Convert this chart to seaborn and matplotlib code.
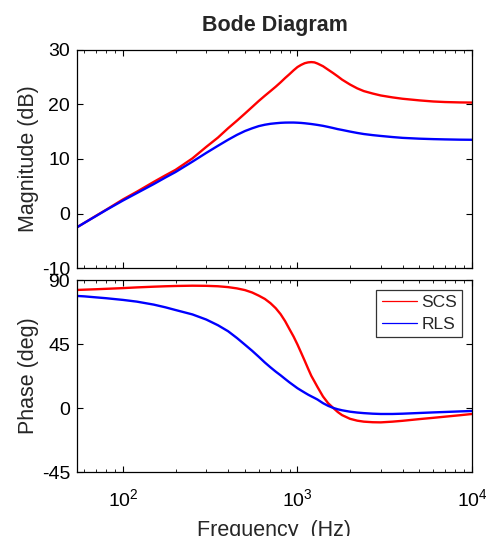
import pandas as pd
import matplotlib
matplotlib.use("Agg")
import matplotlib.pyplot as plt
import seaborn as sns
from matplotlib.ticker import LogLocator, NullFormatter

# valores (Hz)
freq = [54.5, 60, 70, 80, 100, 120, 150, 175, 200, 250, 300, 350,
        400, 450, 500, 550, 600, 650, 700, 750, 800, 850, 900, 950,
        1000, 1050, 1100, 1150, 1200, 1250, 1300, 1400, 1500, 1600, 1700, 1800,
        2000, 2200, 2400, 2700, 3000, 3500, 4000, 5000, 6000, 7000, 8500, 10000]

# magnitude (dB)
mag_scs = [-2.5, -1.7, -0.4, 0.7, 2.6, 4.0, 5.8, 7.0, 8.0, 10.1, 12.2, 13.9,
           15.6, 17.0, 18.3, 19.5, 20.6, 21.55, 22.4, 23.2, 24.0, 24.8, 25.5, 26.2,
           26.8, 27.2, 27.5, 27.65, 27.7, 27.65, 27.45, 26.95, 26.3, 25.7, 25.1, 24.5,
           23.6, 22.9, 22.4, 21.95, 21.6, 21.25, 21.0, 20.7, 20.5, 20.4, 20.33, 20.3]
mag_rls = [-2.5, -1.7, -0.45, 0.65, 2.4, 3.75, 5.4, 6.6, 7.6, 9.5, 11.1, 12.4,
           13.5, 14.4, 15.1, 15.6, 16.0, 16.25, 16.42, 16.52, 16.6, 16.64, 16.65, 16.65,
           16.62, 16.58, 16.52, 16.45, 16.38, 16.3, 16.22, 16.05, 15.85, 15.65, 15.45, 15.3,
           15.0, 14.75, 14.55, 14.35, 14.2, 14.0, 13.85, 13.7, 13.62, 13.57, 13.52, 13.5]

# fase (graus)
fase_scs = [83.0, 83.2, 83.5, 83.8, 84.3, 84.8, 85.3, 85.6, 85.8, 86.0, 85.9, 85.6,
            85.0, 84.1, 82.9, 81.2, 79.0, 76.7, 73.7, 70.2, 66.0, 61.0, 55.4, 50.2,
            44.6, 38.8, 33.2, 27.7, 22.6, 18.7, 14.9, 8.1, 3.3, 0.1, -2.8, -5.0,
            -7.6, -8.9, -9.6, -10.0, -10.1, -9.6, -9.0, -7.8, -6.9, -6.1, -5.1, -4.2]
fase_rls = [78.8, 78.5, 77.8, 77.2, 76.0, 74.8, 72.7, 70.8, 68.9, 65.8, 62.2, 58.2,
            54.0, 49.2, 44.5, 40.2, 36.0, 32.0, 28.6, 25.6, 23.0, 20.4, 18.0, 15.9,
            13.9, 12.3, 10.8, 9.4, 8.2, 7.1, 6.0, 3.4, 1.5, 0.1, -0.9, -1.6,
            -2.6, -3.2, -3.6, -4.0, -4.2, -4.2, -4.0, -3.5, -3.1, -2.8, -2.4, -2.1]

metodos = ["SCS", "RLS"]
cores = {"SCS": "#ff0000", "RLS": "#0000ff"}

df = pd.concat([
    pd.DataFrame({"freq": freq, "mag": mag_scs, "fase": fase_scs, "metodo": "SCS"}),
    pd.DataFrame({"freq": freq, "mag": mag_rls, "fase": fase_rls, "metodo": "RLS"}),
])

sns.set_style("ticks")
plt.rcParams["font.family"] = ["Liberation Sans", "DejaVu Sans"]
plt.rcParams["axes.unicode_minus"] = False

fig = plt.figure(figsize=(4.86, 5.36), dpi=100)
ax1 = fig.add_axes([0.1584, 0.4994, 0.8128, 0.4082])
ax2 = fig.add_axes([0.1584, 0.1194, 0.8128, 0.3582])

sns.lineplot(data=df, x="freq", y="mag", hue="metodo", hue_order=metodos,
             palette=cores, linewidth=1.7, ax=ax1, legend=False, sort=False)
sns.lineplot(data=df, x="freq", y="fase", hue="metodo", hue_order=metodos,
             palette=cores, linewidth=1.7, ax=ax2, sort=False)

for ax in (ax1, ax2):
    ax.set_xscale("log")
    ax.set_xlim(54.5, 10000)
    ax.xaxis.set_major_locator(LogLocator(base=10, numticks=10))
    ax.xaxis.set_minor_locator(LogLocator(base=10, subs=range(2, 10), numticks=20))
    ax.xaxis.set_minor_formatter(NullFormatter())
    ax.tick_params(which="both", direction="in", top=True, right=True, labelsize=14,
                   colors="black")
    ax.tick_params(which="major", length=4, width=0.8)
    ax.tick_params(which="minor", length=2.5, width=0.6)
    ax.tick_params(axis="y", pad=5)
    for s in ax.spines.values():
        s.set_color("black")
        s.set_linewidth(0.9)

ax1.set_ylim(-10, 30)
ax1.set_yticks([-10, 0, 10, 20, 30])
ax1.set_xticklabels([])
ax1.set_xlabel("")
ax1.set_ylabel("Magnitude (dB)", fontsize=15.5)
ax1.set_title("Bode Diagram", fontsize=15.5, fontweight="bold", pad=13.5)

ax2.set_ylim(-45, 90)
ax2.set_yticks([-45, 0, 45, 90])
ax2.tick_params(axis="x", pad=12)
ax2.set_xlabel("Frequency  (Hz)", fontsize=15.5, labelpad=7)
ax2.set_ylabel("Phase (deg)", fontsize=15.5)
ax1.yaxis.set_label_coords(-0.097, 0.5)
ax2.yaxis.set_label_coords(-0.097, 0.5)

leg = ax2.legend(loc="upper right", fontsize=12.5, frameon=True, fancybox=False,
                 borderaxespad=0.55, handlelength=2.05, handletextpad=0.25,
                 borderpad=0.3, labelspacing=0.4)
leg.get_frame().set_edgecolor("#333333")
leg.get_frame().set_linewidth(0.9)
leg.get_frame().set_alpha(1)
for ln in leg.get_lines():
    ln.set_linewidth(0.9)

plt.savefig("out.png", dpi=100)
